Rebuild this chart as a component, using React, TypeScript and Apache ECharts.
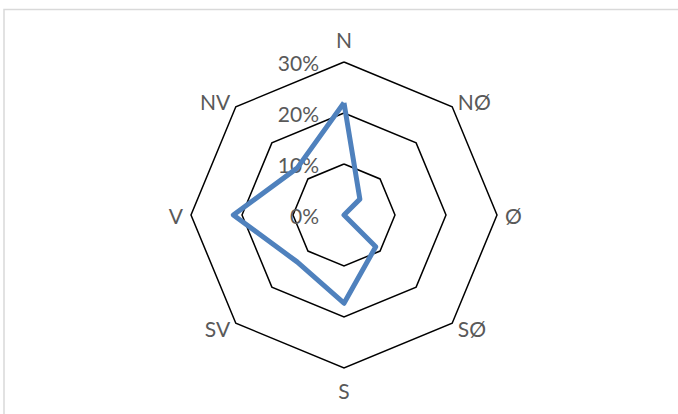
import React, { useEffect, useRef } from "react";
import * as echarts from "echarts";

const directions = ["N", "NØ", "Ø", "SØ", "S", "SV", "V", "NV"];
const shares = [22, 4.4, 0, 8.8, 17.3, 13, 21.7, 13];
const tickValues = [0, 10, 20, 30];
const axisMax = 30;

const FONT = "Lato, 'Open Sans', sans-serif";
const TEXT_COLOR = "#595959";
const FONT_SIZE = 21;

// ECharts radar runs counter-clockwise; reorder (keeping N first) so it runs clockwise.
const order = [0, ...directions.slice(1).map((_, i) => directions.length - 1 - i)];
const radarNames = order.map((i) => directions[i]);
const radarValues = order.map((i) => shares[i]);

export default function App() {
  const ref = useRef<HTMLDivElement>(null);
  useEffect(() => {
    if (!ref.current) return;
    const chart = echarts.init(ref.current, undefined, { renderer: "svg" });
    chart.setOption({
      animation: false,
      backgroundColor: "#ffffff",
      graphic: [
        {
          type: "rect",
          shape: { x: 4, y: 9.5, width: 720, height: 500 },
          style: { fill: "none", stroke: "#d9d9d9", lineWidth: 1.5 },
          silent: true,
        },
      ],
      radar: {
        center: [344, 215],
        radius: 153,
        startAngle: 90,
        shape: "polygon",
        splitNumber: tickValues.length - 1,
        indicator: radarNames.map((d) => ({ name: d, min: 0, max: axisMax })),
        axisName: {
          color: TEXT_COLOR,
          fontFamily: FONT,
          fontSize: FONT_SIZE,
          verticalAlign: "middle",
          formatter: (name: string) => {
            if (name === "N") return "{up|" + name + "}";
            if (name === "S") return "{down|" + name + "}";
            return name;
          },
          rich: {
            up: {
              color: TEXT_COLOR,
              fontFamily: FONT,
              fontSize: FONT_SIZE,
              padding: [0, 0, 30, 0],
            },
            down: {
              color: TEXT_COLOR,
              fontFamily: FONT,
              fontSize: FONT_SIZE,
              padding: [28, 0, 0, 0],
            },
          },
        },
        nameGap: 8,
        axisLine: { show: false },
        axisTick: { show: false },
        axisLabel: { show: false },
        splitArea: { show: false },
        splitLine: { lineStyle: { color: "#000000", width: 1.5 } },
      },
      grid: { left: 344, top: 62, width: 1, height: 153 },
      xAxis: { type: "value", show: false },
      yAxis: {
        type: "value",
        min: tickValues[0],
        max: tickValues[tickValues.length - 1],
        interval: 10,
        axisLine: { show: false },
        axisTick: { show: false },
        splitLine: { show: false },
        axisLabel: {
          formatter: "{value}%",
          margin: 25,
          color: TEXT_COLOR,
          fontFamily: FONT,
          fontSize: FONT_SIZE,
        },
      },
      series: [
        {
          type: "radar",
          symbol: "none",
          lineStyle: { color: "#4f81bd", width: 5, join: "round" },
          itemStyle: { color: "#4f81bd" },
          data: [{ value: radarValues, name: "Andel" }],
        },
      ],
    });
    return () => chart.dispose();
  }, []);
  return (
    <div
      ref={ref}
      style={{ position: "fixed", left: 0, top: 0, width: 678, height: 414 }}
    />
  );
}
